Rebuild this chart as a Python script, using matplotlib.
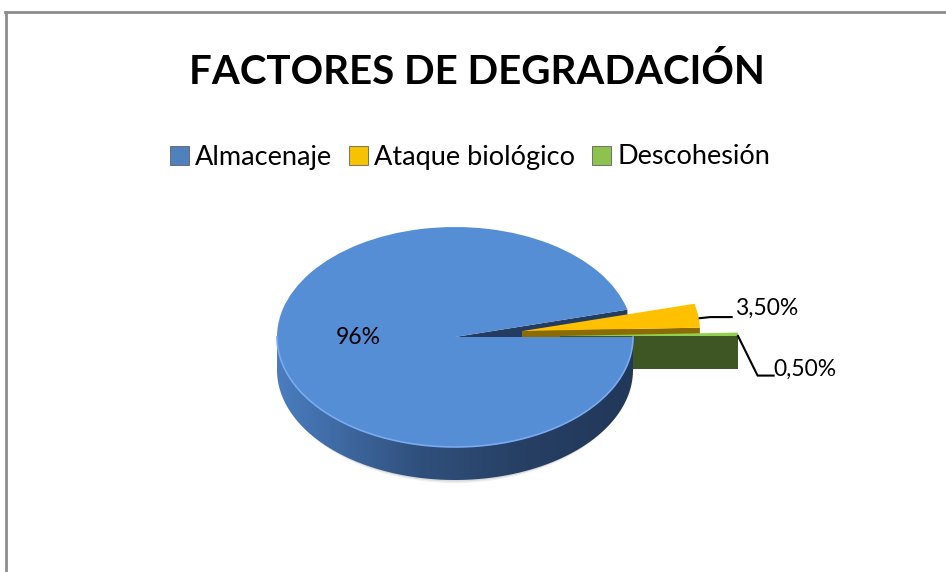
import numpy as np
import matplotlib.pyplot as plt
from matplotlib.patches import Polygon, Patch
from matplotlib.colors import LinearSegmentedColormap
from matplotlib.lines import Line2D

categories = ["Almacenaje", "Ataque biológico", "Descohesión"]
values = [96, 3.5, 0.5]
pct_labels = ["96%", "3,50%", "0,50%"]
explode = [0, 0.38, 0.59]

top_colors = ["#558ed5", "#ffc000", "#92d050"]
cut_colors = ["#243c60", "#8a6b05", "#3d5624"]
legend_colors = ["#4f81bd", "#f7c200", "#8ec24f"]

plt.rcParams['font.family'] = ['Lato', 'DejaVu Sans']

fig = plt.figure(figsize=(9.46, 5.72), dpi=100)
ax = fig.add_axes([0, 0, 1, 1])

wedges, _ = ax.pie(values, explode=explode, startangle=0, counterclock=False,
                   colors=top_colors, radius=1, wedgeprops=dict(linewidth=0))

depth = 0.3
side_cmap = LinearSegmentedColormap.from_list(
    "side", [(0, "#4a7dc0"), (0.4, "#30507c"), (0.7, "#263f63"), (1, "#22385a")])

# z-order of each piece (back to front): blue cut, yellow, green, blue body
z_cut = [1, 2, 4]
z_top = [8, 3, 5]
z_side = [7, 2.5, 4.5]

for i, w in enumerate(wedges):
    cx, cy = w.center
    t1, t2 = w.theta1, w.theta2
    w.set_zorder(z_top[i])
    # radial cut faces that look to the front
    for a, n in ((t1, t1 - 90), (t2, t2 + 90)):
        if np.sin(np.radians(n)) < 0:
            ar = np.radians(a)
            px, py = cx + np.cos(ar), cy + np.sin(ar)
            ax.add_patch(Polygon([(cx, cy), (px, py), (px, py - depth), (cx, cy - depth)],
                                 closed=True, facecolor=cut_colors[i], edgecolor='none',
                                 zorder=z_cut[i]))
    # outer rim that looks to the front
    th = np.radians(np.linspace(t1, t2, 600))
    th = th[np.sin(th) <= 0]
    if len(th) < 2:
        continue
    xs, ys = cx + np.cos(th), cy + np.sin(th)
    pts = np.vstack([np.column_stack([xs, ys]), np.column_stack([xs, ys - depth])[::-1]])
    if i == 0:
        # shaded side: soft shadow, then a left-to-right gradient clipped to the rim
        for k, (dx, dy, al) in enumerate([(-0.02, -0.03, 0.12), (-0.01, -0.015, 0.18)]):
            sh = np.vstack([np.column_stack([xs + dx * np.sign(np.cos(th)), ys + dy]),
                            np.column_stack([xs + dx * np.sign(np.cos(th)), ys - depth + dy])[::-1]])
            ax.add_patch(Polygon(sh, closed=True, facecolor='#808080', edgecolor='none',
                                 alpha=al, zorder=6))
        rim = Polygon(pts, closed=True, facecolor='none', edgecolor='none', zorder=7)
        ax.add_patch(rim)
        grad = np.linspace(0, 1, 256).reshape(1, -1)
        im = ax.imshow(grad, extent=[cx - 1, cx + 1, cy - 1 - depth, cy], aspect='auto',
                       cmap=side_cmap, zorder=7, interpolation='bilinear')
        im.set_clip_path(rim)
    else:
        ax.add_patch(Polygon(pts, closed=True, facecolor=cut_colors[i], edgecolor='none',
                             zorder=z_side[i]))

# soft highlight on the front rim of the top face
bw = wedges[0]
th = np.radians(np.linspace(180, 360, 200))
ax.plot(bw.center[0] + np.cos(th), bw.center[1] + np.sin(th), color="#7aaaf0",
        lw=1.2, zorder=8.5)

ax.set_aspect('auto')
ax.set_xlim(-455 / 178, 491 / 178)
ax.set_ylim(-235 / 110, 337 / 110)
ax.axis('off')

# labels
ax.text(-0.545, 0.0, pct_labels[0], ha='center', va='center', fontsize=16.5, zorder=10)

yw = wedges[1]
ya = np.radians(yw.theta1 + 1.5)
yx, yy = yw.center[0] + np.cos(ya), yw.center[1] + np.sin(ya) + 0.06
ax.plot([yx, yx + 0.06, yx + 0.18], [yy, yy + 0.01, yy + 0.01], color='black', lw=1.5, zorder=10)
ax.text(yx + 0.2, yy + 0.09, pct_labels[1], ha='left', va='center', fontsize=16.5, zorder=10)

gw = wedges[2]
gx, gy = gw.center[0] + 1.0, gw.center[1] + 0.0
ax.plot([gx, gx + 0.11, gx + 0.2], [gy, gy - 0.36, gy - 0.36], color='black', lw=1.5, zorder=10)
ax.text(gx + 0.2, gy - 0.3, pct_labels[2], ha='left', va='center', fontsize=16.5, zorder=10)

# title and legend
fig.text(477 / 946, 1 - 72 / 572, "FACTORES DE DEGRADACIÓN", ha='center', va='center',
         fontsize=29, fontweight='bold')
handles = [Patch(facecolor=c, edgecolor='#606060', linewidth=0.6) for c in legend_colors]
fig.legend(handles, categories, loc='center', bbox_to_anchor=(470 / 946, 1 - 157 / 572),
           ncol=3, frameon=False, fontsize=19.5, handlelength=0.7, handleheight=0.7,
           handletextpad=0.25, columnspacing=0.6)

# chart border (top and left edges visible)
fig.add_artist(Line2D([5 / 946, 1], [1 - 12 / 572] * 2, color='#8c8c8c', lw=2,
                      transform=fig.transFigure))
fig.add_artist(Line2D([6 / 946] * 2, [0, 1 - 12 / 572], color='#8c8c8c', lw=2,
                      transform=fig.transFigure))

fig.savefig("out.png", dpi=100)
